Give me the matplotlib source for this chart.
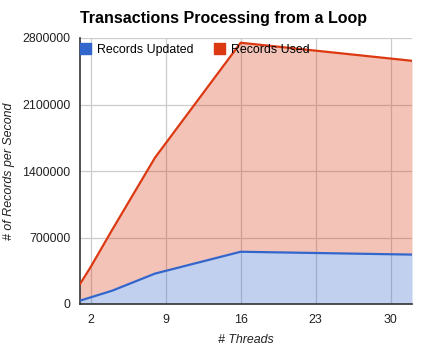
import matplotlib
matplotlib.use('Agg')
import matplotlib.pyplot as plt
from matplotlib.patches import Patch
from matplotlib.ticker import FixedLocator

plt.rcParams['font.family'] = ['Liberation Sans', 'DejaVu Sans']

threads = [1, 2, 4, 8, 16, 32]
records_updated = [35000, 70000, 140000, 320000, 550000, 520000]
records_used = [210000, 390000, 780000, 1540000, 2750000, 2560000]
xticks = [2, 9, 16, 23, 30]
yticks = [0, 700000, 1400000, 2100000, 2800000]

blue = '#3366cc'
red = '#dc3912'

fig = plt.figure(figsize=(4.26, 3.53), dpi=100)
ax = fig.add_axes([80 / 426, 1 - 304 / 353, 332 / 426, 266 / 353])

ax.fill_between(threads, records_updated, records_used, color=red, alpha=0.3, lw=0, zorder=2)
ax.fill_between(threads, 0, records_updated, color=blue, alpha=0.3, lw=0, zorder=2)
ax.plot(threads, records_used, color=red, lw=1.6, zorder=3)
ax.plot(threads, records_updated, color=blue, lw=1.6, zorder=3)

ax.set_xlim(1, 32)
ax.set_ylim(0, 2800000)
ax.xaxis.set_major_locator(FixedLocator(xticks))
ax.yaxis.set_major_locator(FixedLocator(yticks))
ax.set_yticklabels([str(v) for v in yticks])
ax.grid(True, color='#cccccc', lw=0.9, zorder=0)
ax.set_axisbelow(True)
ax.tick_params(length=0, labelsize=8.9, colors='#222222', pad=7)
for s in ['top', 'right']:
    ax.spines[s].set_visible(False)
for s in ['left', 'bottom']:
    ax.spines[s].set_color('#333333')
    ax.spines[s].set_linewidth(1.2)

ax.set_xlabel('# Threads', style='italic', fontsize=8.9, color='#222222', labelpad=6)
ax.set_ylabel('# of Records per Second', style='italic', fontsize=8.9, color='#222222')
ax.yaxis.set_label_coords(-0.195, 0.5)
fig.text(80 / 426, 1 - 18 / 353, 'Transactions Processing from a Loop', fontsize=11.5,
         fontweight='bold', va='center', ha='left')

handles = [Patch(color=blue, label='Records Updated'), Patch(color=red, label='Records Used')]
ax.legend(handles=handles, loc='upper left', ncol=2, frameon=False, fontsize=8.9,
          bbox_to_anchor=(0.0, 0.98), handlelength=0.9, handleheight=0.9,
          handletextpad=0.5, columnspacing=1.6, borderaxespad=0, borderpad=0)

fig.savefig('out.png', dpi=100)
